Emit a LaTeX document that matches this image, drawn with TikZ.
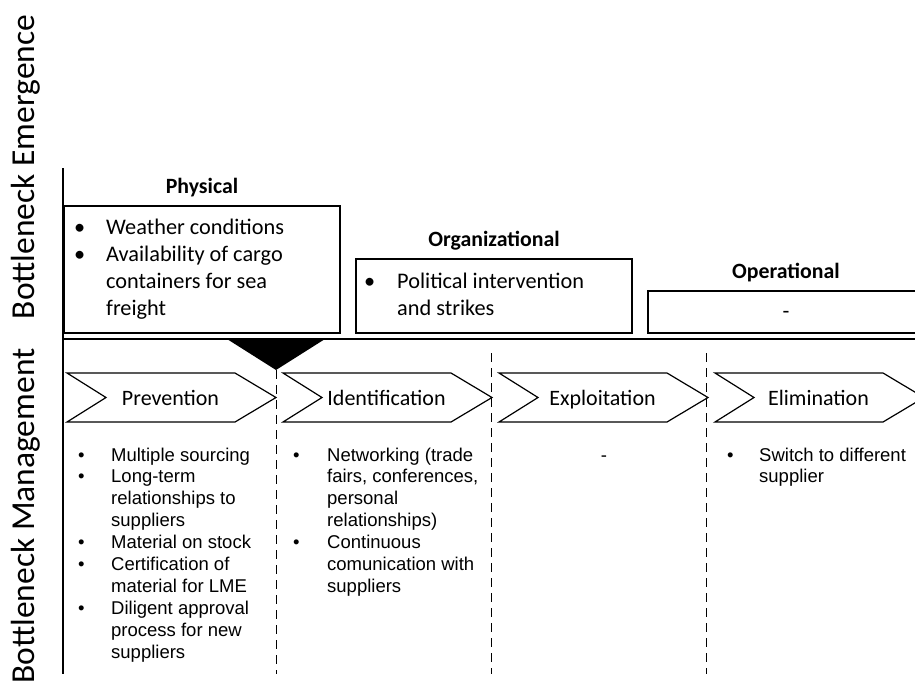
\documentclass[tikz,border=0pt]{standalone}
\usepackage{fontspec}
\setmainfont{Carlito}
\newfontfamily\listfont{Liberation Sans}
\newcommand\bul[1]{\makebox[#1][l]{\textbullet}}
\begin{document}
\begin{tikzpicture}[x=1pt,y=-1pt,
  frame/.style={draw=black, line width=1.3pt},
  divider/.style={draw=black, line width=1pt, dash pattern=on 9pt off 6pt},
  axislabel/.style={rotate=90, inner sep=0pt, font=\fontsize{33.5}{40}\selectfont},
  header/.style={inner sep=0pt, anchor=base, font=\bfseries\fontsize{21.8}{26}\selectfont},
  boxtext/.style={inner sep=0pt, anchor=base west, font=\fontsize{22.3}{27}\selectfont},
  phase/.style={inner sep=0pt, anchor=base, font=\fontsize{22}{27}\selectfont},
  listtext/.style={inner sep=0pt, anchor=base west, font=\listfont\fontsize{18.5}{21.9}\selectfont}]
\useasboundingbox (0,0) rectangle (915,697);
\clip (0,0) rectangle (915,697);

% axis labels
\node[axislabel] (emergence) at (26,167) {Bottleneck Emergence};
\node[axislabel] (management) at (26,516) {Bottleneck Management};

% emergence categories
\draw[frame] (64,206) rectangle (340,333);
\draw[frame] (356,259) rectangle (632,333);
\draw[frame] (648,291) rectangle (924,333);

\node[header] (physical) at (202,193) {Physical};
\node[header] (organizational) at (494,246) {Organizational};
\node[header] (operational) at (786,278) {Operational};

\node[boxtext] (physlist) at (74,234) {\begin{tabular}[t]{@{}l@{}l@{}}
\bul{32pt} & Weather conditions\\
\bul{32pt} & Availability of cargo\\
 & containers for sea\\
 & freight
\end{tabular}};
\node[boxtext] (orglist) at (364,288) {\begin{tabular}[t]{@{}l@{}l@{}}
\bul{33pt} & Political intervention\\
 & and strikes
\end{tabular}};
\node[boxtext, anchor=base] (opdash) at (786,318) {-};

% main axes
\coordinate (axtop) at (63,168);
\coordinate (axbot) at (63,674);
\draw[frame] (axtop) -- (axbot);
\draw[frame] (63,339) -- (915,339);

% marker where the bottleneck emerges
\fill[black] (227,339) -- (325,339) -- (276,370) -- cycle;

% phase dividers
\coordinate (d1a) at (276,370); \coordinate (d1b) at (276,674);
\coordinate (d2a) at (491,353); \coordinate (d2b) at (491,674);
\coordinate (d3a) at (706,353); \coordinate (d3b) at (706,674);
\draw[divider] (d1a) -- (d1b);
\draw[divider] (d2a) -- (d2b);
\draw[divider] (d3a) -- (d3b);

% phase chevrons
\foreach \L/\txt/\nm in {67/Prevention/prev, 283/Identification/ident, 499/Exploitation/exploit, 715/Elimination/elim}{
  \draw[line width=1.2pt, fill=white] (\L,373) -- ++(168,0) -- ++(41,24.5) -- ++(-41,24.5) -- ++(-168,0) -- ++(39,-24.5) -- cycle;
  \node[phase] (\nm) at (\L+103.5,405) {\txt};
}

% management measures
\node[listtext] (prevlist) at (78,461) {\begin{tabular}[t]{@{}l@{}l@{}}
\bul{33pt} & Multiple sourcing\\
\bul{33pt} & Long-term\\
 & relationships to\\
 & suppliers\\
\bul{33pt} & Material on stock\\
\bul{33pt} & Certification of\\
 & material for LME\\
\bul{33pt} & Diligent approval\\
 & process for new\\
 & suppliers
\end{tabular}};
\node[listtext] (identlist) at (293,461) {\begin{tabular}[t]{@{}l@{}l@{}}
\bul{34pt} & Networking (trade\\
 & fairs, conferences,\\
 & personal\\
 & relationships)\\
\bul{34pt} & Continuous\\
 & comunication with\\
 & suppliers
\end{tabular}};
\node[listtext, anchor=base] (exploitlist) at (604,461) {-};
\node[listtext] (elimlist) at (727,461) {\begin{tabular}[t]{@{}l@{}l@{}}
\bul{32pt} & Switch to different\\
 & supplier
\end{tabular}};
\end{tikzpicture}
\end{document}
